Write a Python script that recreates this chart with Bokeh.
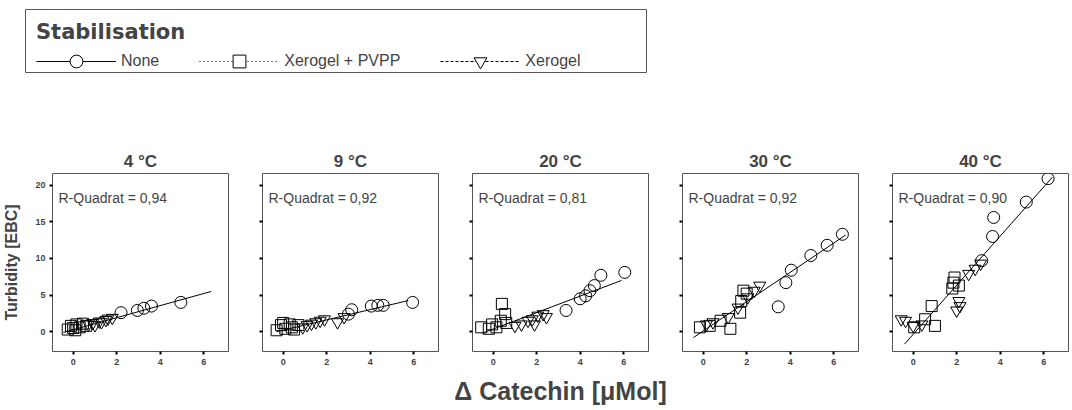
from bokeh.plotting import figure
from bokeh.layouts import column, row
from bokeh.models import (Legend, LegendItem, Label, Range1d, FixedTicker,
                          CustomJSTickFormatter)
from bokeh.embed import file_html
from bokeh.resources import INLINE

# ---------------- data ----------------
temps = ["4 °C", "9 °C", "20 °C", "30 °C", "40 °C"]
r_squared = ["0,94", "0,92", "0,81", "0,92", "0,90"]
x_ticks = [0, 2, 4, 6]
y_ticks = [0, 5, 10, 15, 20]

# Stabilisation: None (circles)
none_x = [[2.2, 2.95, 3.25, 3.6, 4.95],
          [3.0, 3.15, 4.05, 4.35, 4.6, 5.95],
          [3.35, 4.0, 4.25, 4.45, 4.65, 4.95, 6.05],
          [3.45, 3.8, 4.05, 4.95, 5.7, 6.4],
          [3.15, 3.65, 3.7, 5.2, 6.2]]
none_y = [[2.6, 2.9, 3.2, 3.5, 4.0],
          [2.4, 3.0, 3.5, 3.6, 3.6, 4.0],
          [2.9, 4.5, 4.9, 5.6, 6.3, 7.7, 8.1],
          [3.4, 6.7, 8.4, 10.4, 11.8, 13.3],
          [9.7, 13.0, 15.6, 17.7, 20.9]]

# Stabilisation: Xerogel + PVPP (squares)
pvpp_x = [[-0.25, -0.1, 0.0, 0.15, 0.3, 0.45, 0.6, 0.1],
          [-0.3, -0.1, 0.1, 0.3, 0.5, 0.7, 0.0, 0.4],
          [-0.55, -0.2, -0.05, 0.15, 0.35, 0.4, 0.55, 0.6],
          [-0.15, 0.3, 0.8, 1.25, 1.7, 1.75, 1.85, 2.0],
          [0.05, 0.55, 0.85, 1.0, 1.8, 1.85, 1.9, 2.1]]
pvpp_y = [[0.3, 0.8, 0.5, 1.0, 0.6, 1.1, 0.8, 0.2],
          [0.2, 0.9, 0.4, 1.0, 0.3, 0.9, 1.2, 0.6],
          [0.6, 0.4, 1.0, 0.6, 1.5, 3.8, 2.4, 1.2],
          [0.6, 0.8, 1.5, 0.4, 2.6, 4.2, 5.6, 5.2],
          [0.6, 1.7, 3.5, 0.8, 5.9, 6.7, 7.4, 6.3]]

# Stabilisation: Xerogel (down triangles)
xero_x = [[0.7, 0.9, 1.0, 1.2, 1.3, 1.5, 1.6, 1.8],
          [0.9, 1.1, 1.3, 1.5, 1.7, 1.9, 2.5, 2.8],
          [1.0, 1.3, 1.6, 1.8, 1.9, 2.05, 2.3, 2.45],
          [0.15, 0.45, 1.15, 1.6, 2.05, 2.35, 2.6],
          [-0.55, -0.35, 0.0, 0.4, 2.0, 2.1, 2.15, 2.55, 2.85, 3.1]]
xero_y = [[1.0, 1.2, 0.9, 1.4, 1.3, 1.6, 1.8, 1.9],
          [0.6, 0.9, 1.1, 1.3, 1.5, 1.7, 1.3, 2.0],
          [0.8, 1.0, 1.5, 1.7, 1.0, 2.2, 2.4, 2.0],
          [1.0, 1.3, 2.0, 3.3, 4.7, 5.6, 6.3],
          [1.7, 1.5, 0.8, 1.0, 2.9, 4.2, 3.5, 7.9, 8.6, 9.3]]

# total fit line end points
fit_x = [[-0.45, 6.35], [-0.3, 5.75], [-0.5, 5.9], [-0.45, 6.55], [-0.4, 6.4]]
fit_y = [[-0.1, 5.5], [0.0, 4.25], [-0.2, 7.0], [-0.8, 13.2], [-1.7, 21.1]]

series_labels = ["None", "Xerogel + PVPP", "Xerogel"]
x_title = "Δ Catechin [μMol]"
y_title = "Turbidity [EBC]"

# ---------------- styling ----------------
FRAME_W = 176
FRAME_H = 178
FONT = "Liberation Sans"

# ---------------- legend figure ----------------
# the legend renderers use the first panel's data, kept outside the view
lf = figure(frame_width=622, frame_height=63, toolbar_location=None,
            output_backend="svg", x_axis_location=None, y_axis_location=None,
            min_border_left=25, min_border_right=0, min_border_top=9,
            min_border_bottom=26, x_range=Range1d(100, 101),
            y_range=Range1d(100, 101))
lf.grid.visible = False
lf.outline_line_color = "#555555"
lf.outline_line_width = 1

l_none_line = lf.line(fit_x[0], fit_y[0], line_color="black", line_width=1)
l_none_mk = lf.scatter(none_x[0], none_y[0], marker="circle",
                       line_color="black", fill_color="white")
l_pvpp_line = lf.line(fit_x[0], fit_y[0], line_color="black", line_width=1,
                      line_dash="1 3")
l_pvpp_mk = lf.scatter(pvpp_x[0], pvpp_y[0], marker="square",
                       line_color="black", fill_color="white")
l_xero_line = lf.line(fit_x[0], fit_y[0], line_color="black", line_width=1,
                      line_dash="3 2")
l_xero_mk = lf.scatter(xero_x[0], xero_y[0], marker="inverted_triangle",
                       line_color="black", fill_color="white")

legend = Legend(items=[
    LegendItem(label=series_labels[0], renderers=[l_none_line, l_none_mk]),
    LegendItem(label=series_labels[1], renderers=[l_pvpp_line, l_pvpp_mk]),
    LegendItem(label=series_labels[2], renderers=[l_xero_line, l_xero_mk]),
], orientation="horizontal", location="top_left")
legend.title = "Stabilisation"
legend.title_text_font = "DejaVu Sans"
legend.title_text_font_size = "21px"
legend.title_text_font_style = "bold"
legend.title_standoff = 1
legend.label_text_font = FONT
legend.label_text_font_size = "16px"
legend.label_standoff = 5
legend.glyph_width = 80
legend.glyph_height = 32
legend.spacing = 40
legend.padding = 4
legend.margin = 11
legend.border_line_color = None
legend.background_fill_alpha = 0
lf.add_layout(legend, "center")

# ---------------- panels ----------------
panels = []
for i in range(5):
    first = i == 0
    p = figure(frame_width=FRAME_W, frame_height=FRAME_H,
               x_range=Range1d(-0.95, 7.14), y_range=Range1d(-2.7, 21.6),
               toolbar_location=None, output_backend="svg",
               min_border_left=52 if first else 32,
               min_border_right=2,
               min_border_top=75, min_border_bottom=22,
               title=temps[i])
    p.title.align = "center"
    p.title.text_font = FONT
    p.title.text_font_size = "17px"
    p.title.text_font_style = "bold"
    p.title.standoff = 6
    p.grid.visible = False
    p.outline_line_color = "#555555"
    p.outline_line_width = 1

    for ax in (p.xaxis, p.yaxis):
        ax.axis_line_color = None
        ax.major_tick_in = 0
        ax.major_tick_out = 3
        ax.major_tick_line_width = 2
        ax.minor_tick_line_color = None
        ax.major_label_text_font = FONT
        ax.major_label_text_font_size = "9px"
        ax.major_label_text_font_style = "bold"
        ax.major_label_standoff = 4
    p.xaxis.ticker = FixedTicker(ticks=x_ticks)
    p.yaxis.ticker = FixedTicker(ticks=y_ticks)
    if not first:
        p.yaxis.formatter = CustomJSTickFormatter(code="return ''")
        p.yaxis.major_label_standoff = 0
    else:
        p.yaxis.axis_label = y_title
        p.yaxis.axis_label_text_font = FONT
        p.yaxis.axis_label_text_font_size = "16px"
        p.yaxis.axis_label_text_font_style = "bold"
        p.yaxis.axis_label_standoff = 12

    p.line(fit_x[i], fit_y[i], line_color="black", line_width=1)
    p.scatter(pvpp_x[i], pvpp_y[i], marker="square", size=11,
              line_color="black", fill_color=None, line_width=1)
    p.scatter(xero_x[i], xero_y[i], marker="inverted_triangle", size=12,
              line_color="black", fill_color=None, line_width=1)
    p.scatter(none_x[i], none_y[i], marker="circle", size=12,
              line_color="black", fill_color=None, line_width=1)

    p.add_layout(Label(x=6, y=FRAME_H - 24, x_units="screen", y_units="screen",
                       text="R-Quadrat = " + r_squared[i],
                       text_font=FONT, text_font_size="14px",
                       text_baseline="middle"))
    panels.append(p)

# ---------------- shared x axis title ----------------
xf = figure(frame_width=1020, frame_height=1, toolbar_location=None,
            output_backend="svg", x_axis_location=None, y_axis_location=None,
            min_border_left=50, min_border_right=0, min_border_top=30,
            min_border_bottom=4, title=x_title)
xf.grid.visible = False
xf.outline_line_color = None
xf.title.align = "center"
xf.title.text_font = FONT
xf.title.text_font_size = "25px"
xf.title.text_font_style = "bold"
xf.title.standoff = 2

layout = column(row(lf), row(*panels), row(xf))
open("out.html", "w").write(file_html(layout, INLINE))
